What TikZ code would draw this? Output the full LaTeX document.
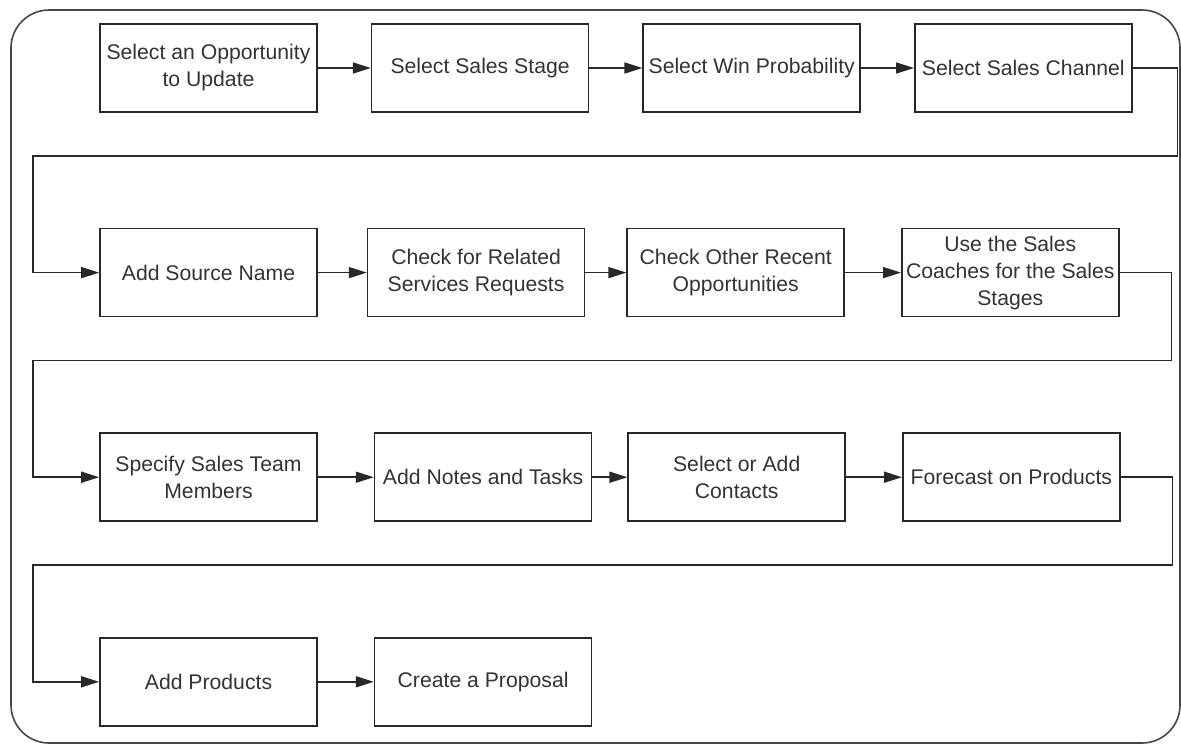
\documentclass[tikz,border=0pt]{standalone}
\usepackage{fontspec}
\setmainfont{Liberation Sans}
\definecolor{flowLine}{RGB}{40,40,40}
\definecolor{flowText}{RGB}{51,51,51}
\definecolor{flowFrame}{RGB}{70,70,70}
\usetikzlibrary{arrows.meta,positioning}

\begin{document}
\begin{tikzpicture}[
  x=0.5pt, y=-0.5pt,
  box/.style={draw=flowLine, line width=0.8pt, minimum width=108.5pt,
              minimum height=44pt, inner sep=0pt,
              align=center, text=flowText,
              font=\fontsize{10.6}{13.5}\selectfont},
  flow/.style={-{Triangle[length=9pt,width=5.5pt]}, line width=0.8pt, flowLine}
]
  \useasboundingbox (0,0) rectangle (1181,745);
  \draw[flowFrame, line width=0.8pt, rounded corners=19pt] (11,10) rectangle (1180,743);

  % row 1
  \node[box] at (208.5,68)               (opp)   {Select an Opportunity\\to Update};
  \node[box, right=26.5pt of opp]        (stage) {Select Sales Stage};
  \node[box, right=26.5pt of stage]      (prob)  {Select Win Probability};
  \node[box, right=26.5pt of prob]       (chan)  {Select Sales Channel};

  % row 2
  \node[box, below=57.5pt of opp]        (src)   {Add Source Name};
  \node[box, right=24.5pt of src]        (req)   {Check for Related\\Services Requests};
  \node[box, right=20.5pt of req]        (opps)  {Check Other Recent\\Opportunities};
  \node[box, right=28pt of opps]         (coach) {Use the Sales\\Coaches for the Sales\\Stages};

  % row 3
  \node[box, below=57.5pt of src]        (team)  {Specify Sales Team\\Members};
  \node[box, right=28pt of team]         (notes) {Add Notes and Tasks};
  \node[box, right=17.5pt of notes]      (cont)  {Select or Add\\Contacts};
  \node[box, right=28pt of cont]         (fcst)  {Forecast on Products};

  % row 4
  \node[box, below=57.5pt of team]       (prod)  {Add Products};
  \node[box, right=28pt of prod]         (prop)  {Create a Proposal};

  \draw[flow] (opp.east) -- (stage.west);
  \draw[flow] (stage.east) -- (prob.west);
  \draw[flow] (prob.east) -- (chan.west);
  \draw[flow] (chan.east) -| ([xshift=22.5pt, yshift=-21.5pt]chan.south east)
              -| ([xshift=-33pt]src.west) -- (src.west);

  \draw[flow] (src.east) -- (req.west);
  \draw[flow] (req.east) -- (opps.west);
  \draw[flow] (opps.east) -- (coach.west);
  \draw[flow] (coach.east) -| ([xshift=26pt, yshift=-21.5pt]coach.south east)
              -| ([xshift=-33pt]team.west) -- (team.west);

  \draw[flow] (team.east) -- (notes.west);
  \draw[flow] (notes.east) -- (cont.west);
  \draw[flow] (cont.east) -- (fcst.west);
  \draw[flow] (fcst.east) -| ([xshift=26pt, yshift=-21.5pt]fcst.south east)
              -| ([xshift=-33pt]prod.west) -- (prod.west);

  \draw[flow] (prod.east) -- (prop.west);
\end{tikzpicture}
\end{document}
